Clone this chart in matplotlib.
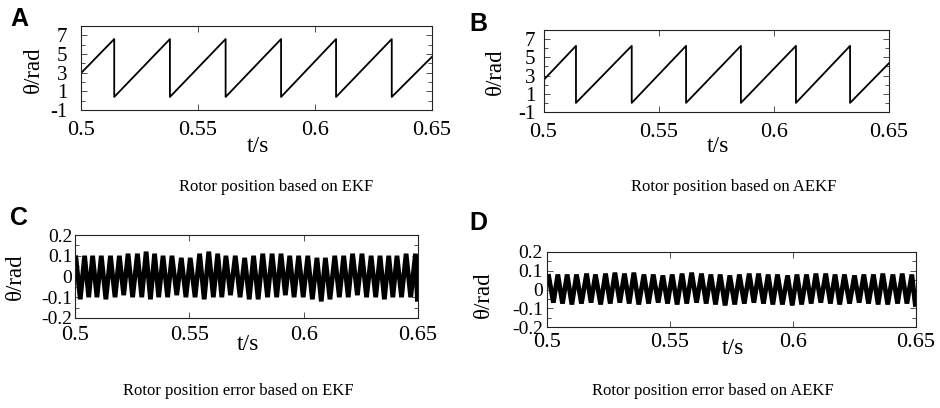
import numpy as np
import matplotlib
matplotlib.use("Agg")
import matplotlib.pyplot as plt
from matplotlib.ticker import MultipleLocator

plt.rcParams['font.family'] = ['Liberation Serif', 'DejaVu Serif']
plt.rcParams['axes.unicode_minus'] = False

# --- Data: rotor position (sawtooth corners) ---
a_start = (0.5, 2.95)
a_end = (0.65, 4.7)
a_drop_t = [0.5142, 0.5380, 0.5618, 0.5855, 0.6090, 0.6328]
a_peak = [6.6, 6.6, 6.6, 6.6, 6.6, 6.6]
a_trough = [0.4, 0.4, 0.4, 0.4, 0.4, 0.4]

b_start = (0.5, 2.5)
b_end = (0.65, 4.36)
b_drop_t = [0.5141, 0.5383, 0.5619, 0.5857, 0.6096, 0.6331]
b_peak = [6.26, 6.26, 6.26, 6.26, 6.26, 6.26]
b_trough = [0.0, 0.0, 0.0, 0.0, 0.0, 0.0]

# --- Data: position error (peak / trough points) ---
c_peak_t = [0.5004, 0.5042, 0.5077, 0.5115, 0.5155, 0.5194, 0.5232, 0.5273, 0.5311, 0.5348,
            0.5385, 0.5424, 0.5465, 0.5504, 0.5545, 0.5585, 0.5624, 0.5660, 0.5701, 0.5742,
            0.5781, 0.5821, 0.5862, 0.5901, 0.5939, 0.5978, 0.6018, 0.6058, 0.6095, 0.6136,
            0.6175, 0.6214, 0.6255, 0.6295, 0.6334, 0.6372, 0.6408, 0.6448, 0.6489]
c_peak = [0.09, 0.10, 0.10, 0.10, 0.10, 0.10, 0.11, 0.11, 0.12, 0.11,
          0.10, 0.10, 0.09, 0.09, 0.11, 0.12, 0.11, 0.10, 0.10, 0.09,
          0.10, 0.11, 0.11, 0.11, 0.10, 0.10, 0.10, 0.09, 0.09, 0.10,
          0.10, 0.11, 0.11, 0.10, 0.10, 0.10, 0.10, 0.11, 0.11]
c_trough_t = [0.5023, 0.5060, 0.5096, 0.5135, 0.5175, 0.5213, 0.5252, 0.5292, 0.5330, 0.5366,
              0.5405, 0.5445, 0.5485, 0.5525, 0.5565, 0.5605, 0.5642, 0.5680, 0.5722, 0.5762,
              0.5801, 0.5842, 0.5882, 0.5920, 0.5958, 0.5998, 0.6038, 0.6077, 0.6115, 0.6156,
              0.6195, 0.6235, 0.6275, 0.6315, 0.6353, 0.6390, 0.6428, 0.6468, 0.6497]
c_trough = [-0.11, -0.10, -0.10, -0.11, -0.10, -0.09, -0.10, -0.10, -0.11, -0.10,
            -0.10, -0.09, -0.10, -0.10, -0.11, -0.10, -0.10, -0.09, -0.10, -0.11,
            -0.11, -0.10, -0.10, -0.09, -0.10, -0.10, -0.11, -0.12, -0.11, -0.10,
            -0.10, -0.09, -0.10, -0.10, -0.11, -0.10, -0.10, -0.10, -0.11]

d_peak_t = [0.5007, 0.5044, 0.5082, 0.5120, 0.5161, 0.5197, 0.5238, 0.5276, 0.5315, 0.5353,
            0.5394, 0.5432, 0.5471, 0.5509, 0.5549, 0.5588, 0.5628, 0.5666, 0.5704, 0.5743,
            0.5782, 0.5822, 0.5860, 0.5899, 0.5937, 0.5978, 0.6016, 0.6055, 0.6093, 0.6133,
            0.6171, 0.6209, 0.6250, 0.6288, 0.6327, 0.6365, 0.6406, 0.6444, 0.6483]
d_peak = [0.07, 0.08, 0.08, 0.08, 0.085, 0.08, 0.085, 0.09, 0.085, 0.09,
          0.08, 0.08, 0.075, 0.08, 0.085, 0.09, 0.085, 0.08, 0.08, 0.075,
          0.08, 0.085, 0.085, 0.08, 0.08, 0.075, 0.08, 0.08, 0.085, 0.085,
          0.08, 0.08, 0.075, 0.08, 0.08, 0.085, 0.08, 0.085, 0.08]
d_trough_t = [0.5026, 0.5063, 0.5101, 0.5140, 0.5179, 0.5218, 0.5257, 0.5296, 0.5334, 0.5373,
              0.5413, 0.5452, 0.5490, 0.5529, 0.5568, 0.5608, 0.5647, 0.5685, 0.5724, 0.5763,
              0.5802, 0.5841, 0.5880, 0.5918, 0.5957, 0.5997, 0.6035, 0.6074, 0.6113, 0.6152,
              0.6190, 0.6230, 0.6269, 0.6307, 0.6346, 0.6385, 0.6425, 0.6463, 0.6497]
d_trough = [-0.07, -0.075, -0.08, -0.075, -0.07, -0.08, -0.075, -0.07, -0.075, -0.08,
            -0.075, -0.07, -0.075, -0.08, -0.075, -0.07, -0.075, -0.08, -0.085, -0.08,
            -0.075, -0.07, -0.075, -0.08, -0.08, -0.085, -0.08, -0.075, -0.07, -0.075,
            -0.08, -0.075, -0.07, -0.075, -0.08, -0.08, -0.075, -0.075, -0.08]

x_ticks = [0.5, 0.55, 0.6, 0.65]
x_ticklabels = ['0.5', '0.55', '0.6', '0.65']
pos_ticks = [-1, 1, 3, 5, 7]
err_ticks = [-0.2, -0.1, 0, 0.1, 0.2]
err_ticklabels = ['-0.2', '-0.1', '0', '0.1', '0.2']

captions = ["Rotor position based on EKF", "Rotor position based on AEKF",
            "Rotor position error based on EKF", "Rotor position error based on AEKF"]
letters = ["A", "B", "C", "D"]


def sawtooth(start, end, drops, peaks, troughs):
    xs = [start[0]]
    ys = [start[1]]
    for t, p, q in zip(drops, peaks, troughs):
        xs += [t, t]
        ys += [p, q]
    xs.append(end[0])
    ys.append(end[1])
    return xs, ys


def zigzag(pt, pv, tt, tv):
    xs, ys = [], []
    for a, b, c, d in zip(pt, pv, tt, tv):
        xs += [a, c]
        ys += [b, d]
    return xs, ys


W, H = 940, 408
fig = plt.figure(figsize=(W / 100, H / 100), dpi=100)


def px_axes(l, r, t, b):
    return fig.add_axes([l / W, 1 - b / H, (r - l) / W, (b - t) / H])


def style(ax, xpad, ypad, ysize):
    for s in ax.spines.values():
        s.set_linewidth(0.8)
        s.set_color('#222222')
    ax.set_xlim(0.5, 0.65)
    ax.set_xticks(x_ticks)
    ax.set_xticklabels(x_ticklabels)
    ax.tick_params(axis='both', which='both', direction='in', top=True, right=True,
                   width=0.6, color='#333333')
    ax.tick_params(axis='both', which='major', length=4)
    ax.tick_params(axis='both', which='minor', length=3)
    ax.tick_params(axis='x', labelsize=16, pad=xpad)
    ax.tick_params(axis='y', labelsize=ysize, pad=ypad)


axA = px_axes(81, 432, 26, 110)
axB = px_axes(543.5, 889, 30, 112)
axC = px_axes(75, 418, 235, 318)
axD = px_axes(547, 916, 252, 327)

xs, ys = sawtooth(a_start, a_end, a_drop_t, a_peak, a_trough)
axA.plot(xs, ys, color='black', lw=1.3)
xs, ys = sawtooth(b_start, b_end, b_drop_t, b_peak, b_trough)
axB.plot(xs, ys, color='black', lw=1.3)

for ax, pad_x, pad_y in [(axA, 8, 10), (axB, 8, 6)]:
    style(ax, pad_x, pad_y, 15)
    ax.set_ylim(-1, 8)
    ax.set_yticks(pos_ticks)
    ax.yaxis.set_minor_locator(MultipleLocator(1))

xs, ys = zigzag(c_peak_t, c_peak, c_trough_t, c_trough)
axC.plot(xs, ys, color='black', lw=3.4, solid_joinstyle='bevel')
xs, ys = zigzag(d_peak_t, d_peak, d_trough_t, d_trough)
axD.plot(xs, ys, color='black', lw=3.4, solid_joinstyle='bevel')

for ax, pad_x, pad_y in [(axC, 6, 2), (axD, 4, 3)]:
    style(ax, pad_x, pad_y, 14)
    ax.set_ylim(-0.2, 0.2)
    ax.set_yticks(err_ticks)
    ax.set_yticklabels(err_ticklabels)
    ax.yaxis.set_minor_locator(MultipleLocator(0.05))

# axis labels
for x, y in [(33, 70), (495, 72), (15, 277), (483, 295)]:
    fig.text(x / W, 1 - y / H, 'θ/rad', rotation=90, ha='center', va='center', fontsize=16.5)
for x, y in [(258, 147), (718, 147), (248, 345), (733, 349)]:
    fig.text(x / W, 1 - y / H, 't/s', ha='center', va='center', fontsize=17)

# captions
for (x, y), txt in zip([(276, 187), (734, 187), (238, 391), (713, 391)], captions):
    fig.text(x / W, 1 - y / H, txt, ha='center', va='center', fontsize=12)

# panel letters
for (x, y), let in zip([(19, 19), (478, 24), (19, 218), (478, 223)], letters):
    fig.text(x / W, 1 - y / H, let, ha='center', va='center', fontsize=18,
             fontweight='bold', family=['Liberation Sans', 'DejaVu Sans'])

fig.savefig('out.png', dpi=100)
